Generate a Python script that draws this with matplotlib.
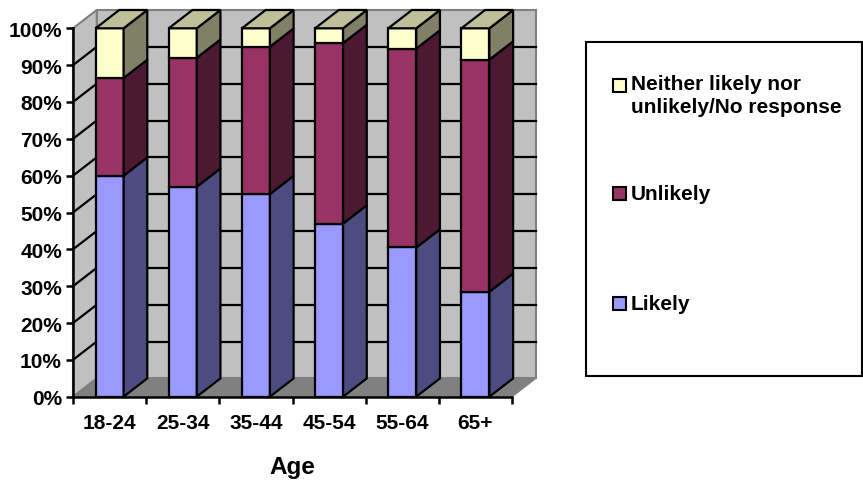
import matplotlib

matplotlib.use("Agg")
import matplotlib.pyplot as plt
from matplotlib.patches import Polygon, Rectangle

plt.rcParams["font.family"] = ["Liberation Sans", "DejaVu Sans"]
plt.rcParams["font.weight"] = "bold"

ages = ["18-24", "25-34", "35-44", "45-54", "55-64", "65+"]
likely = [60.0, 57.0, 55.0, 47.0, 40.5, 28.5]
unlikely = [26.5, 35.0, 40.0, 49.0, 54.0, 63.0]
neither = [13.5, 8.0, 5.0, 4.0, 5.5, 8.5]
series_names = ["Likely", "Unlikely", "Neither likely nor\nunlikely/No response"]

# front, side, top shades per series
shades = {
    "Likely": ("#9999FF", "#4C4C80", "#7373BF"),
    "Unlikely": ("#993366", "#4C1933", "#732650"),
    "Neither likely nor\nunlikely/No response": ("#FFFFCC", "#808066", "#BFBF99"),
}

W, H = 863, 485
FS = 15
fig = plt.figure(figsize=(W / 100, H / 100), dpi=100)
fig.patch.set_facecolor("white")

# plot area of the front plane in pixels
px0, px1, py_top, py_bot = 73, 512, 29.3, 397.7
ax = fig.add_axes([px0 / W, (H - py_bot) / H, (px1 - px0) / W, (py_bot - py_top) / H])
n = len(ages)
ax.set_xlim(0, n)
ax.set_ylim(0, 1)
ax.set_facecolor("none")

# depth offset in data units
DX = 23.7 / ((px1 - px0) / n)
DY = 18.3 / (py_bot - py_top)
wall = "#C0C0C0"
floor = "#808080"
edge_gray = "#808080"

ax.add_patch(Polygon([(DX, DY), (n + DX, DY), (n + DX, 1 + DY), (DX, 1 + DY)],
                     facecolor=wall, edgecolor=edge_gray, lw=1.5, clip_on=False, zorder=1))
ax.add_patch(Polygon([(0, 0), (DX, DY), (DX, 1 + DY), (0, 1)],
                     facecolor=wall, edgecolor=edge_gray, lw=1.5, clip_on=False, zorder=1))
ax.add_patch(Polygon([(0, 0), (n, 0), (n + DX, DY), (DX, DY)],
                     facecolor=floor, edgecolor=edge_gray, lw=1.0, clip_on=False, zorder=1))

for k in range(1, 10):
    v = k / 10
    ax.plot([DX, n + DX], [v + DY, v + DY], color="black", lw=1.6, clip_on=False, zorder=2)
    ax.plot([0, DX], [v, v + DY], color="black", lw=1.6, clip_on=False, zorder=2)

bw = 0.3825
for i in range(n):
    x0 = i + (1 - bw) / 2
    bottom = 0.0
    vals = [likely[i], unlikely[i], neither[i]]
    for j, (name, val) in enumerate(zip(series_names, vals)):
        front, side, top = shades[name]
        b, t = bottom, bottom + val / 100
        kw = dict(edgecolor="black", lw=1.6, clip_on=False, zorder=3, joinstyle="miter")
        ax.add_patch(Rectangle((x0, b), bw, t - b, facecolor=front, **kw))
        ax.add_patch(Polygon([(x0 + bw, b), (x0 + bw + DX, b + DY),
                              (x0 + bw + DX, t + DY), (x0 + bw, t)], facecolor=side, **kw))
        if j == len(vals) - 1:
            ax.add_patch(Polygon([(x0, t), (x0 + bw, t), (x0 + bw + DX, t + DY),
                                  (x0 + DX, t + DY)], facecolor=top, **kw))
        bottom = t

for s in ["top", "right"]:
    ax.spines[s].set_visible(False)
for s in ["left", "bottom"]:
    ax.spines[s].set_linewidth(1.8)
    ax.spines[s].set_zorder(4)

ax.set_yticks([k / 10 for k in range(11)])
ax.set_yticklabels([f"{k * 10}%" for k in range(11)])
ax.set_xticks(range(n + 1))
ax.set_xticklabels([])
ax.set_xticks([i + 0.5 for i in range(n)], minor=True)
ax.set_xticklabels(ages, minor=True)
ax.tick_params(axis="both", which="major", direction="out", length=5, width=1.8,
               labelsize=FS, pad=3)
ax.tick_params(axis="x", which="minor", length=0, labelsize=FS, pad=12)
ax.set_xlabel("Age", fontsize=17.5, fontweight="bold", labelpad=16)


# legend box drawn in figure pixels
def fx(x):
    return x / W


def fy(y):
    return (H - y) / H


fig.patches.append(Rectangle((fx(586), fy(376.7)), fx(862) - fx(586), (376.7 - 42.7) / H,
                             transform=fig.transFigure, facecolor="white",
                             edgecolor="black", lw=1.5))
legend_rows = [(series_names[2], 86.5), (series_names[1], 194.5), (series_names[0], 304.5)]
for name, yc in legend_rows:
    fig.patches.append(Rectangle((fx(612.5), fy(yc + 6.5)), 13 / W, 13 / H,
                                 transform=fig.transFigure, facecolor=shades[name][0],
                                 edgecolor="black", lw=1.5))
    if "\n" in name:
        fig.text(fx(631), fy(yc - 11), name, ha="left", va="top", fontsize=FS,
                 fontweight="bold", linespacing=1.25)
    else:
        fig.text(fx(631), fy(yc), name, ha="left", va="center", fontsize=FS,
                 fontweight="bold")

fig.savefig("out.png", dpi=100)
